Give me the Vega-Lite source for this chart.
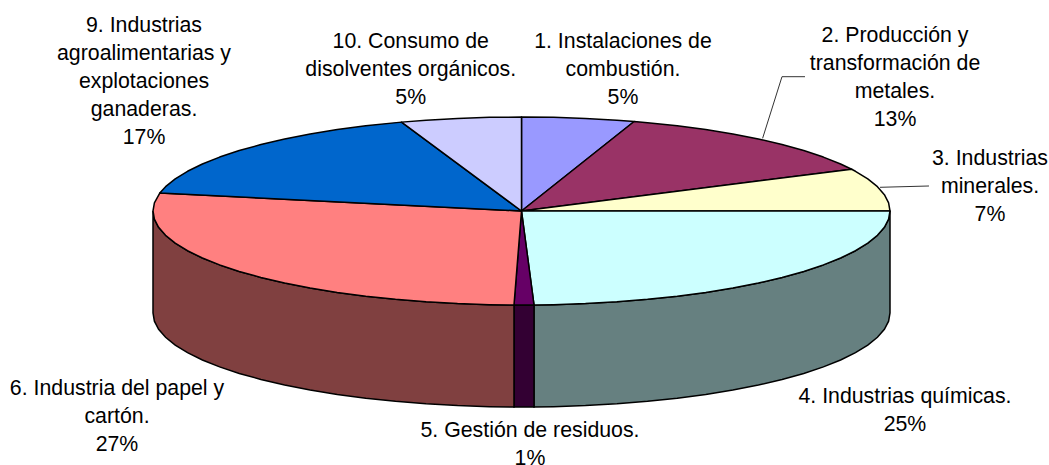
{"$schema":"https://vega.github.io/schema/vega-lite/v6.json","width":1049,"height":465,"padding":0,"autosize":{"type":"none"},"background":"white","config":{"view":{"stroke":null}},
"datasets":{
"top":[
{"slice":"1","step":0,"u":0,"v":0},{"slice":"1","step":1,"u":0,"v":1},{"slice":"1","step":2,"u":0.0872,"v":0.9962},{"slice":"1","step":3,"u":0.1736,"v":0.9848},{"slice":"1","step":4,"u":0.2588,"v":0.9659},{"slice":"1","step":5,"u":0.3057,"v":0.9521},{"slice":"1","step":6,"u":0,"v":0},
{"slice":"2","step":0,"u":0,"v":0},{"slice":"2","step":1,"u":0.3057,"v":0.9521},{"slice":"2","step":2,"u":0.342,"v":0.9397},{"slice":"2","step":3,"u":0.4226,"v":0.9063},{"slice":"2","step":4,"u":0.5,"v":0.866},{"slice":"2","step":5,"u":0.5736,"v":0.8192},{"slice":"2","step":6,"u":0.6428,"v":0.766},{"slice":"2","step":7,"u":0.7071,"v":0.7071},{"slice":"2","step":8,"u":0.766,"v":0.6428},{"slice":"2","step":9,"u":0.8192,"v":0.5736},{"slice":"2","step":10,"u":0.866,"v":0.5},{"slice":"2","step":11,"u":0.896,"v":0.444},{"slice":"2","step":12,"u":0,"v":0},
{"slice":"3","step":0,"u":0,"v":0},{"slice":"3","step":1,"u":0.896,"v":0.444},{"slice":"3","step":2,"u":0.9063,"v":0.4226},{"slice":"3","step":3,"u":0.9397,"v":0.342},{"slice":"3","step":4,"u":0.9659,"v":0.2588},{"slice":"3","step":5,"u":0.9848,"v":0.1736},{"slice":"3","step":6,"u":0.9962,"v":0.0872},{"slice":"3","step":7,"u":1,"v":0},{"slice":"3","step":8,"u":0,"v":0},
{"slice":"4","step":0,"u":0,"v":0},{"slice":"4","step":1,"u":1,"v":0},{"slice":"4","step":2,"u":0.9962,"v":-0.0872},{"slice":"4","step":3,"u":0.9848,"v":-0.1736},{"slice":"4","step":4,"u":0.9659,"v":-0.2588},{"slice":"4","step":5,"u":0.9397,"v":-0.342},{"slice":"4","step":6,"u":0.9063,"v":-0.4226},{"slice":"4","step":7,"u":0.866,"v":-0.5},{"slice":"4","step":8,"u":0.8192,"v":-0.5736},{"slice":"4","step":9,"u":0.766,"v":-0.6428},{"slice":"4","step":10,"u":0.7071,"v":-0.7071},{"slice":"4","step":11,"u":0.6428,"v":-0.766},{"slice":"4","step":12,"u":0.5736,"v":-0.8192},{"slice":"4","step":13,"u":0.5,"v":-0.866},{"slice":"4","step":14,"u":0.4226,"v":-0.9063},{"slice":"4","step":15,"u":0.342,"v":-0.9397},{"slice":"4","step":16,"u":0.2588,"v":-0.9659},{"slice":"4","step":17,"u":0.1736,"v":-0.9848},{"slice":"4","step":18,"u":0.0872,"v":-0.9962},{"slice":"4","step":19,"u":0.0339,"v":-0.9994},{"slice":"4","step":20,"u":0,"v":0},
{"slice":"5","step":0,"u":0,"v":0},{"slice":"5","step":1,"u":0.0339,"v":-0.9994},{"slice":"5","step":2,"u":0,"v":-1},{"slice":"5","step":3,"u":-0.0204,"v":-0.9998},{"slice":"5","step":4,"u":0,"v":0},
{"slice":"6","step":0,"u":0,"v":0},{"slice":"6","step":1,"u":-0.0204,"v":-0.9998},{"slice":"6","step":2,"u":-0.0872,"v":-0.9962},{"slice":"6","step":3,"u":-0.1736,"v":-0.9848},{"slice":"6","step":4,"u":-0.2588,"v":-0.9659},{"slice":"6","step":5,"u":-0.342,"v":-0.9397},{"slice":"6","step":6,"u":-0.4226,"v":-0.9063},{"slice":"6","step":7,"u":-0.5,"v":-0.866},{"slice":"6","step":8,"u":-0.5736,"v":-0.8192},{"slice":"6","step":9,"u":-0.6428,"v":-0.766},{"slice":"6","step":10,"u":-0.7071,"v":-0.7071},{"slice":"6","step":11,"u":-0.766,"v":-0.6428},{"slice":"6","step":12,"u":-0.8192,"v":-0.5736},{"slice":"6","step":13,"u":-0.866,"v":-0.5},{"slice":"6","step":14,"u":-0.9063,"v":-0.4226},{"slice":"6","step":15,"u":-0.9397,"v":-0.342},{"slice":"6","step":16,"u":-0.9659,"v":-0.2588},{"slice":"6","step":17,"u":-0.9848,"v":-0.1736},{"slice":"6","step":18,"u":-0.9962,"v":-0.0872},{"slice":"6","step":19,"u":-1,"v":0},{"slice":"6","step":20,"u":-0.9962,"v":0.0872},{"slice":"6","step":21,"u":-0.9816,"v":0.1908},{"slice":"6","step":22,"u":0,"v":0},
{"slice":"9","step":0,"u":0,"v":0},{"slice":"9","step":1,"u":-0.9816,"v":0.1908},{"slice":"9","step":2,"u":-0.9659,"v":0.2588},{"slice":"9","step":3,"u":-0.9397,"v":0.342},{"slice":"9","step":4,"u":-0.9063,"v":0.4226},{"slice":"9","step":5,"u":-0.866,"v":0.5},{"slice":"9","step":6,"u":-0.8192,"v":0.5736},{"slice":"9","step":7,"u":-0.766,"v":0.6428},{"slice":"9","step":8,"u":-0.7071,"v":0.7071},{"slice":"9","step":9,"u":-0.6428,"v":0.766},{"slice":"9","step":10,"u":-0.5736,"v":0.8192},{"slice":"9","step":11,"u":-0.5,"v":0.866},{"slice":"9","step":12,"u":-0.4226,"v":0.9063},{"slice":"9","step":13,"u":-0.3256,"v":0.9455},{"slice":"9","step":14,"u":0,"v":0},
{"slice":"10","step":0,"u":0,"v":0},{"slice":"10","step":1,"u":-0.3256,"v":0.9455},{"slice":"10","step":2,"u":-0.2588,"v":0.9659},{"slice":"10","step":3,"u":-0.1736,"v":0.9848},{"slice":"10","step":4,"u":-0.0872,"v":0.9962},{"slice":"10","step":5,"u":0,"v":1},{"slice":"10","step":6,"u":0,"v":0}
],
"side":[
{"slice":"4","u":1,"v":0,"base":-1.085},{"slice":"4","u":0.9962,"v":-0.0872,"base":-1.1722},{"slice":"4","u":0.9848,"v":-0.1736,"base":-1.2586},{"slice":"4","u":0.9659,"v":-0.2588,"base":-1.3438},{"slice":"4","u":0.9397,"v":-0.342,"base":-1.427},{"slice":"4","u":0.9063,"v":-0.4226,"base":-1.5076},{"slice":"4","u":0.866,"v":-0.5,"base":-1.585},{"slice":"4","u":0.8192,"v":-0.5736,"base":-1.6586},{"slice":"4","u":0.766,"v":-0.6428,"base":-1.7278},{"slice":"4","u":0.7071,"v":-0.7071,"base":-1.7921},{"slice":"4","u":0.6428,"v":-0.766,"base":-1.851},{"slice":"4","u":0.5736,"v":-0.8192,"base":-1.9042},{"slice":"4","u":0.5,"v":-0.866,"base":-1.951},{"slice":"4","u":0.4226,"v":-0.9063,"base":-1.9913},{"slice":"4","u":0.342,"v":-0.9397,"base":-2.0247},{"slice":"4","u":0.2588,"v":-0.9659,"base":-2.0509},{"slice":"4","u":0.1736,"v":-0.9848,"base":-2.0698},{"slice":"4","u":0.0872,"v":-0.9962,"base":-2.0812},{"slice":"4","u":0.0339,"v":-0.9994,"base":-2.0844},
{"slice":"5","u":0.0339,"v":-0.9994,"base":-2.0844},{"slice":"5","u":0,"v":-1,"base":-2.085},{"slice":"5","u":-0.0204,"v":-0.9998,"base":-2.0848},
{"slice":"6","u":-0.0204,"v":-0.9998,"base":-2.0848},{"slice":"6","u":-0.0872,"v":-0.9962,"base":-2.0812},{"slice":"6","u":-0.1736,"v":-0.9848,"base":-2.0698},{"slice":"6","u":-0.2588,"v":-0.9659,"base":-2.0509},{"slice":"6","u":-0.342,"v":-0.9397,"base":-2.0247},{"slice":"6","u":-0.4226,"v":-0.9063,"base":-1.9913},{"slice":"6","u":-0.5,"v":-0.866,"base":-1.951},{"slice":"6","u":-0.5736,"v":-0.8192,"base":-1.9042},{"slice":"6","u":-0.6428,"v":-0.766,"base":-1.851},{"slice":"6","u":-0.7071,"v":-0.7071,"base":-1.7921},{"slice":"6","u":-0.766,"v":-0.6428,"base":-1.7278},{"slice":"6","u":-0.8192,"v":-0.5736,"base":-1.6586},{"slice":"6","u":-0.866,"v":-0.5,"base":-1.585},{"slice":"6","u":-0.9063,"v":-0.4226,"base":-1.5076},{"slice":"6","u":-0.9397,"v":-0.342,"base":-1.427},{"slice":"6","u":-0.9659,"v":-0.2588,"base":-1.3438},{"slice":"6","u":-0.9848,"v":-0.1736,"base":-1.2586},{"slice":"6","u":-0.9962,"v":-0.0872,"base":-1.1722},{"slice":"6","u":-1,"v":0,"base":-1.085}
],
"leaders":[
{"leader":"2","step":0,"u":0.6543,"v":0.7734},{"leader":"2","step":1,"u":0.7069,"v":1.4287},{"leader":"2","step":2,"u":0.7693,"v":1.4287},
{"leader":"3","step":0,"u":0.9729,"v":0.2521},{"leader":"3","step":1,"u":1.1058,"v":0.266}
],
"labels":[
{"label":"1. Instalaciones de\ncombustión.\n5%","u":0.2754,"v":1.9096},
{"label":"2. Producción y\ntransformación de\nmetales.\n13%","u":1.0136,"v":1.984},
{"label":"3. Industrias\nminerales.\n7%","u":1.2714,"v":0.6654},
{"label":"4. Industrias químicas.\n25%","u":1.0407,"v":-1.8564},
{"label":"5. Gestión de residuos.\n1%","u":0.0231,"v":-2.2287},
{"label":"6. Industria del papel y\ncartón.\n27%","u":-1.0977,"v":-1.7713},
{"label":"9. Industrias\nagroalimentarias y\nexplotaciones\nganaderas.\n17%","u":-1.0244,"v":2.0798},
{"label":"10. Consumo de\ndisolventes orgánicos.\n5%","u":-0.3006,"v":1.9096}
]},
"layer":[
{"data":{"name":"side"},"mark":{"type":"area","stroke":"black","strokeWidth":1.5,"opacity":1,"interpolate":"linear"},
"encoding":{"x":{"field":"u","type":"quantitative","scale":{"domain":[-1.4152,1.43148],"nice":false,"zero":false},"axis":null},"y":{"field":"v","type":"quantitative","scale":{"domain":[-2.70213,2.24468],"nice":false,"zero":false},"axis":null},"y2":{"field":"base"},
"fill":{"field":"slice","type":"nominal","legend":null,"scale":{"domain":["4","5","6"],"range":["#668080","#330033","#804040"]}}}},
{"data":{"name":"top"},"mark":{"type":"line","stroke":"black","strokeWidth":1.5,"strokeJoin":"round"},
"encoding":{"x":{"field":"u","type":"quantitative","axis":null},"y":{"field":"v","type":"quantitative","axis":null},"order":{"field":"step","type":"ordinal"},"detail":{"field":"slice"},
"fill":{"field":"slice","type":"nominal","legend":null,"scale":{"domain":["1","2","3","4","5","6","9","10"],"range":["#9999FF","#993366","#FFFFCC","#CCFFFF","#660066","#FF8080","#0066CC","#CCCCFF"]}}}},
{"data":{"name":"leaders"},"mark":{"type":"line","stroke":"#333333","strokeWidth":1},
"encoding":{"x":{"field":"u","type":"quantitative","axis":null},"y":{"field":"v","type":"quantitative","axis":null},"order":{"field":"step","type":"ordinal"},"detail":{"field":"leader"}}},
{"data":{"name":"labels"},"mark":{"type":"text","font":"Liberation Sans","fontSize":21.3,"align":"center","baseline":"top","lineBreak":"\n","lineHeight":28,"color":"black"},
"encoding":{"x":{"field":"u","type":"quantitative","axis":null},"y":{"field":"v","type":"quantitative","axis":null},"text":{"field":"label"}}}
],
"resolve":{"scale":{"fill":"independent"}}}
